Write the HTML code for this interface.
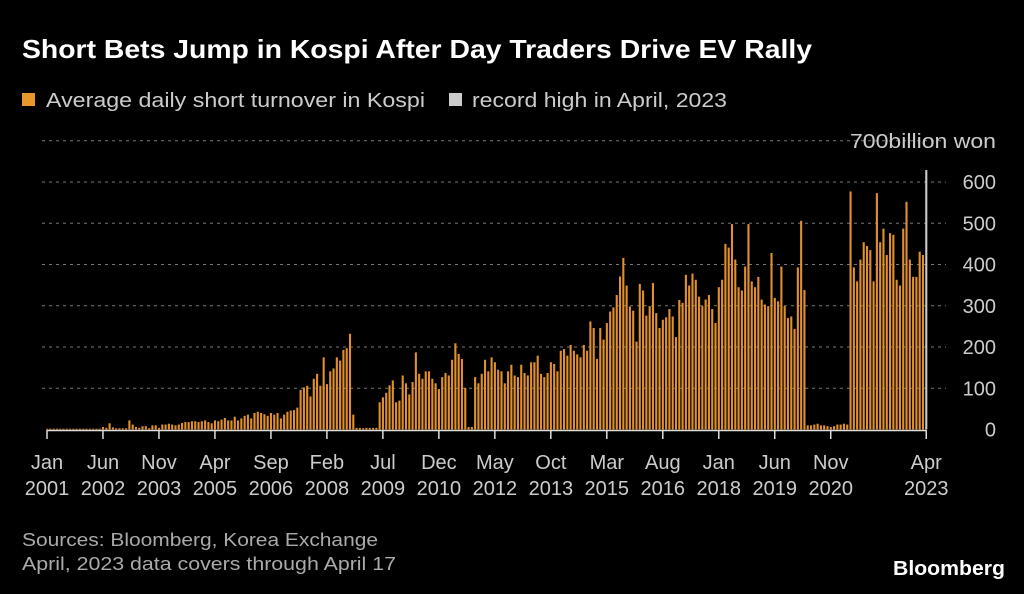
<!DOCTYPE html>
<html><head><meta charset="utf-8"><style>
body{margin:0;background:#000;width:1024px;height:594px;overflow:hidden;font-family:"Liberation Sans",sans-serif;}
#c{position:absolute;left:0;top:0;}
</style></head><body>
<svg id="c" width="1024" height="594" xmlns="http://www.w3.org/2000/svg">
<text x="22" y="58" fill="#fff" font-size="26" font-weight="bold" textLength="790" lengthAdjust="spacingAndGlyphs">Short Bets Jump in Kospi After Day Traders Drive EV Rally</text>
<g>
<rect x="22" y="93" width="13" height="13" fill="#e8962e"/>
<text x="46" y="107" fill="#ccc" font-size="20" textLength="379" lengthAdjust="spacingAndGlyphs">Average daily short turnover in Kospi</text>
<rect x="449" y="93" width="13" height="13" fill="#ccc"/>
<text x="472" y="107" fill="#ccc" font-size="20" textLength="255" lengthAdjust="spacingAndGlyphs">record high in April, 2023</text>
</g>
<g id="grid"></g><g id="bars"></g><g id="xax"></g>
<text x="22" y="546" fill="#aaa" font-size="18" textLength="356" lengthAdjust="spacingAndGlyphs">Sources: Bloomberg, Korea Exchange</text>
<text x="22" y="570" fill="#aaa" font-size="18" textLength="374" lengthAdjust="spacingAndGlyphs">April, 2023 data covers through April 17</text>
<text x="893" y="575" fill="#fff" font-size="20" font-weight="bold" textLength="112" lengthAdjust="spacingAndGlyphs">Bloomberg</text>
</svg>
<script>
const values = [
2,2,2,2,2,2,2,2,2,2,2,2, 2,2,2,2,2,
6,4,15,5,3,3,3,
3,22,12,6,4,8,8,3,10,10,4,12,
12,14,12,10,12,16,18,18,20,20,18,20,
22,18,15,22,20,24,28,22,
22,31,22,27,33,36,27,40,43,40,37,33,40,36,40,27,36,43,46,47,53,96,102,106,80,123,135,106,175,110,141,148,175,167,193,197,232,
36,4,4,3,4,4,4,4,
66,78,89,107,119,66,70,131,112,85,115,187,135,123,141,141,123,112,98,127,137,131,169,209,183,171,101,6,6,
127,112,135,169,141,175,163,145,141,112,141,157,131,127,157,137,131,163,163,179,135,127,137,
163,159,141,191,195,179,205,191,182,175,205,191,262,246,171,246,218,258,286,296,326,371,416,349,298,288,213,353,337,276,299,355,282,246,266,272,292,274,224,314,307,375,349,
378,363,322,299,315,326,292,258,345,363,450,441,498,412,345,337,395,498,359,345,370,315,303,299,428,319,311,395,299,270,274,244,393,506,338,
10,10,12,14,10,10,8,6,8,12,12,14,12,
577,393,359,412,454,445,435,359,573,454,487,423,476,472,363,349,487,552,412,370,370,431,423
];
const recordValue = [629];
const yTicks = [0,100,200,300,400,500,600,700];
const xLabelMonths = ["Jan","Jun","Nov","Apr","Sep","Feb","Jul","Dec","May","Oct","Mar","Aug","Jan","Jun","Nov","Apr"];
const xLabelYears = ["2001","2002","2003","2005","2006","2008","2009","2010","2012","2013","2015","2016","2018","2019","2020","2023"];
const xLabelIndex = [0,17,34,51,68,85,102,119,136,153,170,187,204,221,238,267];

const NS="http://www.w3.org/2000/svg";
const x0=47, step=3.293, y0=429.5, k=0.4125;
const X=i=>x0+i*step, Y=v=>y0-v*k;
function mk(t,a,p){const e=document.createElementNS(NS,t);for(const n in a)e.setAttribute(n,a[n]);p.appendChild(e);return e;}
const grid=document.getElementById('grid'),bars=document.getElementById('bars'),xax=document.getElementById('xax');
yTicks.forEach(v=>{
  if(v>0){const l=mk('line',{x1:42,x2:946,y1:Y(v),y2:Y(v),stroke:'#777','stroke-width':1,'stroke-dasharray':'3,4'},grid);
  
  }
  const t=mk('text',{x:996,y:Y(v)+7,fill:'#ccc','font-size':20,'text-anchor':'end'},grid);
  t.textContent=v===700?'700billion won':String(v);
  if(v===700){t.setAttribute('textLength','146');t.setAttribute('lengthAdjust','spacingAndGlyphs');}
  
  
});
values.forEach((v,i)=>{
  const r=mk('rect',{x:X(i)-1,y:Y(v),width:2.1,height:v*k,fill:'#e0902c'},bars);
  
  
});
const rb=mk('rect',{x:X(values.length)-1,y:Y(recordValue[0]),width:2.1,height:recordValue[0]*k,fill:'#ccc'},bars);


const ax=mk('line',{x1:x0,x2:X(values.length),y1:430.5,y2:430.5,stroke:'#ddd','stroke-width':1.5},xax);


xLabelIndex.forEach((idx,j)=>{
  const x=X(idx);
  const tk=mk('line',{x1:x,x2:x,y1:430,y2:439,stroke:'#ddd','stroke-width':1.5},xax);
  
  
  const t1=mk('text',{x:x,y:469,fill:'#ccc','font-size':20,'text-anchor':'middle'},xax);
  t1.textContent=xLabelMonths[j];
  
  
  const t2=mk('text',{x:x,y:495,fill:'#ccc','font-size':20,'text-anchor':'middle'},xax);
  t2.textContent=xLabelYears[j];
  
  
});
</script>
</body></html>
